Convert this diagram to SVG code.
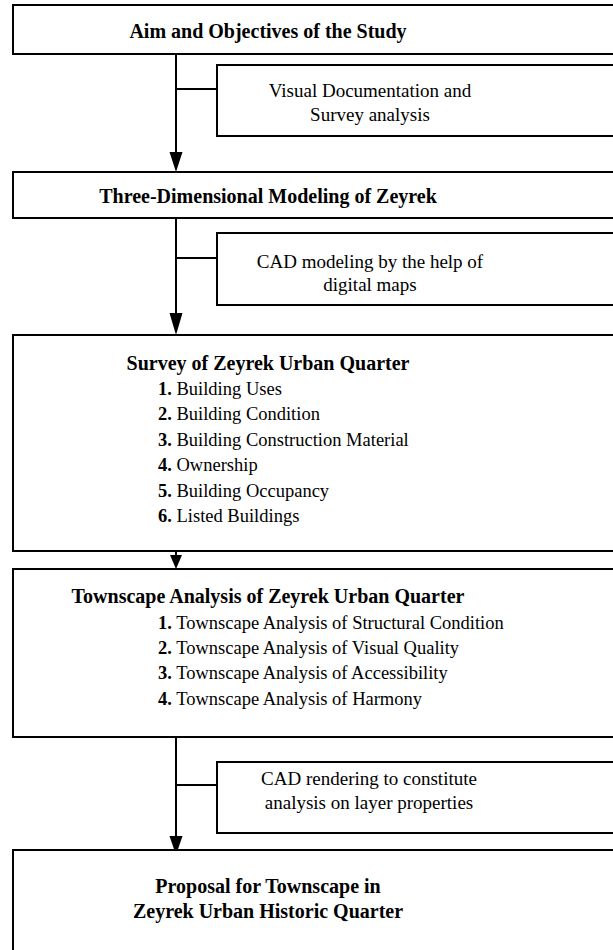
<svg xmlns="http://www.w3.org/2000/svg" width="613" height="950" viewBox="0 0 613 950">
<style>
.box{fill:#fff;stroke:#000;stroke-width:2}
.ln{stroke:#000;stroke-width:2;fill:none}
.head{fill:#000}
text{font-family:"Liberation Serif","Times New Roman",serif;fill:#000}
.t{font-size:20px;font-weight:bold;text-anchor:middle}
.s{font-size:19px;text-anchor:middle}
.i{font-size:18.5px}
.b{font-weight:bold}
</style>
<rect width="613" height="950" fill="#fff"/>
<g id="connectors">
<line class="ln" x1="176" y1="54" x2="176" y2="155"/>
<line class="ln" x1="176" y1="89" x2="217" y2="89"/>
<polygon class="head" points="169.5,152 182.5,152 176,172"/>
<line class="ln" x1="176" y1="218" x2="176" y2="316"/>
<line class="ln" x1="176" y1="258" x2="217" y2="258"/>
<polygon class="head" points="169.5,313 182.5,313 176,335"/>
<line class="ln" x1="176" y1="545" x2="176" y2="557"/>
<polygon class="head" points="170,555 182,555 176,569"/>
<line class="ln" x1="176" y1="737" x2="176" y2="838"/>
<line class="ln" x1="176" y1="785" x2="217" y2="785"/>
<polygon class="head" points="169.5,836 182.5,836 176,855"/>
</g>
<g id="aim">
<rect class="box" x="13" y="5" width="610" height="49"/>
<text class="t" x="268" y="37.5">Aim and Objectives of the Study</text>
</g>
<g id="visual-doc">
<rect class="box" x="217" y="65" width="410" height="71"/>
<text class="s" x="370" y="97">Visual Documentation and</text>
<text class="s" x="370" y="121">Survey analysis</text>
</g>
<g id="modeling">
<rect class="box" x="13" y="172" width="610" height="46"/>
<text class="t" x="268" y="203">Three-Dimensional Modeling of Zeyrek</text>
</g>
<g id="cad-modeling">
<rect class="box" x="217" y="233" width="410" height="72"/>
<text class="s" x="370" y="268">CAD modeling by the help of</text>
<text class="s" x="370" y="291">digital maps</text>
</g>
<g id="survey">
<rect class="box" x="13" y="335" width="610" height="216"/>
<text class="t" x="268" y="369.5">Survey of Zeyrek Urban Quarter</text>
<text class="i" x="158" y="395"><tspan class="b">1.</tspan> Building Uses</text>
<text class="i" x="158" y="420.4"><tspan class="b">2.</tspan> Building Condition</text>
<text class="i" x="158" y="445.8"><tspan class="b">3.</tspan> Building Construction Material</text>
<text class="i" x="158" y="471.2"><tspan class="b">4.</tspan> Ownership</text>
<text class="i" x="158" y="496.6"><tspan class="b">5.</tspan> Building Occupancy</text>
<text class="i" x="158" y="522"><tspan class="b">6.</tspan> Listed Buildings</text>
</g>
<g id="townscape">
<rect class="box" x="13" y="569" width="610" height="168"/>
<text class="t" x="268" y="603">Townscape Analysis of Zeyrek Urban Quarter</text>
<text class="i" x="158" y="628.5"><tspan class="b">1.</tspan> Townscape Analysis of Structural Condition</text>
<text class="i" x="158" y="653.9"><tspan class="b">2.</tspan> Townscape Analysis of Visual Quality</text>
<text class="i" x="158" y="679.3"><tspan class="b">3.</tspan> Townscape Analysis of Accessibility</text>
<text class="i" x="158" y="704.7"><tspan class="b">4.</tspan> Townscape Analysis of Harmony</text>
</g>
<g id="cad-rendering">
<rect class="box" x="217" y="762" width="410" height="71"/>
<text class="s" x="369" y="785">CAD rendering to constitute</text>
<text class="s" x="369" y="809">analysis on layer properties</text>
</g>
<g id="proposal">
<rect class="box" x="13" y="850" width="610" height="120"/>
<text class="t" x="268" y="893">Proposal for Townscape in</text>
<text class="t" x="268" y="918">Zeyrek Urban Historic Quarter</text>
</g>
</svg>
